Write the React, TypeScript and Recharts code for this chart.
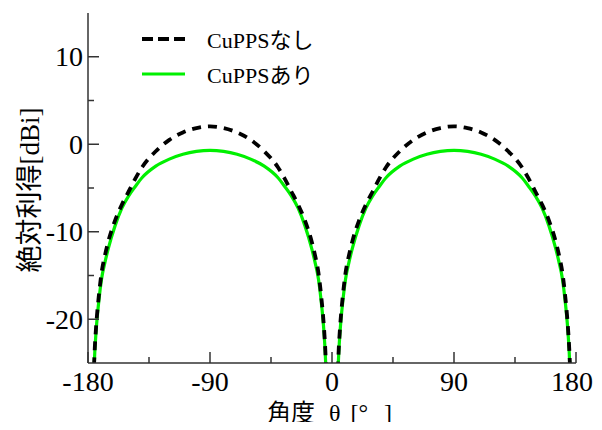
import { LineChart, Line, XAxis, YAxis, Legend } from "recharts";

// angle θ [deg]
const THETA = [
  -180, -177, -176, -175, -174, -172, -170, -167.5, -165, -160, -155, -150, -145, -140, -130, -120, -110, -100, -90,
  -80, -70, -60, -50, -40, -35, -30, -25, -20, -15, -12.5, -10, -8, -6, -5, -4, -3, 0,
  3, 4, 5, 6, 8, 10, 12.5, 15, 20, 25, 30, 35, 40, 50, 60, 70, 80, 90,
  100, 110, 120, 130, 140, 145, 150, 155, 160, 165, 167.5, 170, 172, 174, 175, 176, 177, 180,
];

// CuPPSなし (dashed)
const GAIN_WITHOUT = [
  -40, -30.5, -27, -23.3, -20.8, -17.3, -14.7, -12.7, -11.1, -8.7, -6.9, -5.4, -3.9, -2.6, -0.8, 0.5, 1.35, 1.85, 2.05,
  1.85, 1.35, 0.5, -0.8, -2.6, -3.9, -5.4, -6.9, -8.7, -11.1, -12.7, -14.7, -17.3, -20.8, -23.3, -27, -30.5, -40,
  -30.5, -27, -23.3, -20.8, -17.3, -14.7, -12.7, -11.1, -8.7, -6.9, -5.4, -3.9, -2.6, -0.8, 0.5, 1.35, 1.85, 2.05,
  1.85, 1.35, 0.5, -0.8, -2.6, -3.9, -5.4, -6.9, -8.7, -11.1, -12.7, -14.7, -17.3, -20.8, -23.3, -27, -30.5, -40,
];

// CuPPSあり (green)
const GAIN_WITH = [
  -40, -31, -27.5, -23.8, -21.3, -17.9, -15.4, -13.5, -11.9, -9.3, -7.3, -5.9, -4.8, -3.8, -2.5, -1.7, -1.15, -0.82, -0.7,
  -0.82, -1.15, -1.7, -2.5, -3.8, -4.8, -5.9, -7.3, -9.3, -11.9, -13.5, -15.4, -17.9, -21.3, -23.8, -27.5, -31, -40,
  -31, -27.5, -23.8, -21.3, -17.9, -15.4, -13.5, -11.9, -9.3, -7.3, -5.9, -4.8, -3.8, -2.5, -1.7, -1.15, -0.82, -0.7,
  -0.82, -1.15, -1.7, -2.5, -3.8, -4.8, -5.9, -7.3, -9.3, -11.9, -13.5, -15.4, -17.9, -21.3, -23.8, -27.5, -31, -40,
];

const X_TICKS = [-180, -135, -90, -45, 0, 45, 90, 135, 180];
const Y_TICKS = [-20, -15, -10, -5, 0, 5, 10];

const SERIES = [
  { key: "with", name: "CuPPSあり", color: "#00f000", width: 3.2, dash: undefined as string | undefined },
  { key: "without", name: "CuPPSなし", color: "#000000", width: 3.8, dash: "9 7" },
];

const data = THETA.map((t, i) => ({ theta: t, without: GAIN_WITHOUT[i], with: GAIN_WITH[i] }));

const AXIS = "#333333";
const FONT = "'Liberation Serif', 'Noto Sans CJK JP', serif";

const tickLen = (major: boolean) => (major ? 11 : 6);

function BottomTick(props: any) {
  const { x, y, payload } = props;
  const major = payload.value % 90 === 0;
  // keep the last label inside the page edge
  const last = payload.value === 180;
  return (
    <g>
      <line x1={x} y1={y} x2={x} y2={y - tickLen(major)} stroke={AXIS} strokeWidth={1.5} />
      {major && (
        <text
          x={last ? x + 17 : x}
          y={y + 28}
          textAnchor={last ? "end" : "middle"}
          fontSize={28}
          fill="#000"
          fontFamily={FONT}
        >
          {payload.value}
        </text>
      )}
    </g>
  );
}

function TopTick(props: any) {
  const { x, y, payload } = props;
  const major = payload.value % 90 === 0;
  return <line x1={x} y1={y} x2={x} y2={y + tickLen(major)} stroke={AXIS} strokeWidth={1.5} />;
}

function LeftTick(props: any) {
  const { x, y, payload } = props;
  const major = payload.value % 10 === 0;
  return (
    <g>
      <line x1={x} y1={y} x2={x + tickLen(major)} y2={y} stroke={AXIS} strokeWidth={1.5} />
      {major && (
        <text x={x - 5} y={y + 9.5} textAnchor="end" fontSize={28} fill="#000" fontFamily={FONT}>
          {payload.value}
        </text>
      )}
    </g>
  );
}

function RightTick(props: any) {
  const { x, y, payload } = props;
  const major = payload.value % 10 === 0;
  return <line x1={x} y1={y} x2={x - tickLen(major)} y2={y} stroke={AXIS} strokeWidth={1.5} />;
}

function LegendBox() {
  const rows = [SERIES[1], SERIES[0]];
  return (
    <svg width={240} height={75} style={{ display: "block" }}>
      {rows.map((s, i) => (
        <g key={s.key}>
          <line
            x1={4}
            x2={47}
            y1={16 + 35 * i}
            y2={16 + 35 * i}
            stroke={s.color}
            strokeWidth={s.width}
            strokeDasharray={s.dash ? "11 5" : undefined}
          />
          <text x={69} y={24.5 + 35 * i} fontSize={22} fill="#000" fontFamily={FONT}>
            {s.name}
          </text>
        </g>
      ))}
    </svg>
  );
}

export default function App() {
  return (
    <div style={{ width: 586, height: 414, fontFamily: FONT, position: "relative" }}>
      <LineChart width={586} height={414} data={data} margin={{ top: 5, right: 18, bottom: 19, left: 0 }}>
        <XAxis
          dataKey="theta"
          type="number"
          domain={[-180, 180]}
          allowDataOverflow
          ticks={X_TICKS}
          interval={0}
          height={40}
          tickSize={0}
          tickMargin={0}
          tickLine={false}
          tick={<BottomTick />}
          axisLine={{ stroke: AXIS, strokeWidth: 1.5 }}
        />
        <XAxis
          xAxisId="top"
          orientation="top"
          dataKey="theta"
          type="number"
          domain={[-180, 180]}
          allowDataOverflow
          ticks={X_TICKS}
          interval={0}
          height={0}
          tickSize={0}
          tickMargin={0}
          tickLine={false}
          tick={<TopTick />}
          axisLine={{ stroke: AXIS, strokeWidth: 1.5 }}
        />
        <YAxis
          type="number"
          domain={[-25, 15]}
          allowDataOverflow
          ticks={Y_TICKS}
          interval={0}
          width={80}
          tickSize={0}
          tickMargin={0}
          tickLine={false}
          tick={<LeftTick />}
          axisLine={{ stroke: AXIS, strokeWidth: 1.5 }}
        />
        <YAxis
          yAxisId="right"
          orientation="right"
          type="number"
          domain={[-25, 15]}
          allowDataOverflow
          ticks={Y_TICKS}
          interval={0}
          width={0}
          tickSize={0}
          tickMargin={0}
          tickLine={false}
          tick={<RightTick />}
          axisLine={{ stroke: AXIS, strokeWidth: 1.5 }}
        />
        {SERIES.map((s) => (
          <Line
            key={s.key}
            dataKey={s.key}
            name={s.name}
            type="monotone"
            stroke={s.color}
            strokeWidth={s.width}
            strokeDasharray={s.dash}
            dot={false}
            activeDot={false}
            isAnimationActive={false}
          />
        ))}
        <Legend
          layout="vertical"
          align="center"
          verticalAlign="middle"
          content={<LegendBox />}
          wrapperStyle={{ left: 130, top: 15, width: 240, height: 75 }}
        />
      </LineChart>
      <div
        style={{
          position: "absolute",
          left: 22,
          top: 182,
          transform: "translate(-50%, -50%) rotate(-90deg)",
          fontSize: 27,
          whiteSpace: "nowrap",
          lineHeight: 1,
        }}
      >
        絶対利得[dBi]
      </div>
      <div
        style={{
          position: "absolute",
          left: 259,
          top: 393,
          fontSize: 24,
          whiteSpace: "nowrap",
          lineHeight: 1,
        }}
      >
        <span>角度</span>
        <span style={{ marginLeft: 14 }}>θ</span>
        <span style={{ marginLeft: 10 }}>[°</span>
        <span style={{ marginLeft: 16 }}>]</span>
      </div>
    </div>
  );
}
